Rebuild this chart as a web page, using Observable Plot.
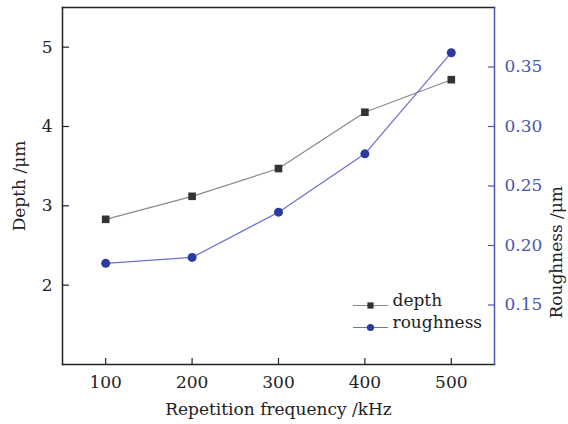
<!DOCTYPE html>
<html>
<head>
<meta charset="utf-8">
<script src="https://cdn.jsdelivr.net/npm/d3@7"></script>
<script src="https://cdn.jsdelivr.net/npm/@observablehq/plot@0.6"></script>
<style>
  html, body { margin: 0; padding: 0; background: #fff; }
  #chart svg { display: block; }
</style>
</head>
<body>
<div id="chart"></div>
<script>
// Data
const frequency = [100, 200, 300, 400, 500];           // kHz
const depth = [2.83, 3.12, 3.47, 4.18, 4.59];           // μm
const roughness = [0.185, 0.190, 0.228, 0.277, 0.362];  // μm
const xTicks = [100, 200, 300, 400, 500];
const depthTicks = [2, 3, 4, 5];
const roughTicks = [0.15, 0.20, 0.25, 0.30, 0.35];
const seriesNames = ["depth", "roughness"];

// Scale domains
const depthDomain = [1, 5.5];
const roughDomain = [0.10, 0.40];
// map roughness onto the depth scale (dual axis)
const r2d = r => depthDomain[0] + (r - roughDomain[0]) / (roughDomain[1] - roughDomain[0]) * (depthDomain[1] - depthDomain[0]);
const d2r = d => roughDomain[0] + (d - depthDomain[0]) / (depthDomain[1] - depthDomain[0]) * (roughDomain[1] - roughDomain[0]);

const depthData = frequency.map((f, i) => ({f, v: depth[i]}));
const roughData = frequency.map((f, i) => ({f, v: r2d(roughness[i])}));

const blue = "#2b3a9e";
const blueLine = "#6a6fd0";
const axisBlue = "#4a56b0";
const gray = "#8a8a8a";
const dark = "#333333";
const font = "DejaVu Serif";
const fs = 17;

const segment = {draw(context, l) { context.moveTo(0, 0); context.lineTo(0, -l); }};

const legendMarks = seriesNames.flatMap((name, i) => [
  Plot.vector([name], {frameAnchor: "bottom-left", dx: 308, dy: -59 + 22 * i, length: 34, rotate: 90,
    anchor: "middle", shape: segment, stroke: i ? blueLine : gray, strokeWidth: 1.2}),
  Plot.dot([name], {frameAnchor: "bottom-left", dx: 308, dy: -59 + 22 * i,
    symbol: i ? "circle" : "square", r: i ? 3.6 : 3.5, fill: i ? blue : dark, stroke: "none"}),
  Plot.text([name], {frameAnchor: "bottom-left", dx: 330, dy: -59 + 22 * i, text: d => d,
    textAnchor: "start", fontSize: fs, fill: "#222"})
]);

const chart = Plot.plot({
  width: 568,
  height: 424,
  marginLeft: 62,
  marginRight: 74,
  marginTop: 7,
  marginBottom: 60,
  style: {fontFamily: font, fontSize: fs + "px", color: "#222", background: "#fff"},
  x: {domain: [50, 550]},
  y: {domain: depthDomain},
  marks: [
    // frame
    Plot.frame({anchor: "left", stroke: "#222", strokeWidth: 1.5}),
    Plot.frame({anchor: "top", stroke: "#222", strokeWidth: 1.5}),
    Plot.frame({anchor: "bottom", stroke: "#222", strokeWidth: 1.5}),
    Plot.frame({anchor: "right", stroke: axisBlue, strokeWidth: 1.5}),
    // axes
    Plot.axisX({ticks: xTicks, tickFormat: d => String(d), tickSize: 6, dy: -6, tickPadding: 11, stroke: "#222", strokeWidth: 1.2,
      label: "Repetition frequency /kHz", labelAnchor: "center", labelOffset: 50, labelArrow: "none", fontSize: fs}),
    Plot.axisY({anchor: "left", ticks: depthTicks, tickFormat: d => String(d), tickSize: 7, dx: 7, tickPadding: 10, stroke: "#222", strokeWidth: 1.2,
      label: "Depth /μm", labelAnchor: "center", labelOffset: 50, labelArrow: "none", fontSize: fs}),
    Plot.axisY({anchor: "right", ticks: roughTicks.map(r2d), tickFormat: d => d2r(d).toFixed(2),
      tickSize: 7, dx: -7, tickPadding: 10, stroke: axisBlue, fill: axisBlue, strokeWidth: 1.2,
      label: null, fontSize: fs}),
    Plot.text(["Roughness /μm"], {frameAnchor: "right", dx: 62, rotate: -90, fontSize: fs, fill: "#222"}),
    // depth series
    Plot.line(depthData, {x: "f", y: "v", stroke: gray, strokeWidth: 1.2}),
    Plot.dot(depthData, {x: "f", y: "v", symbol: "square", r: 4.3, fill: dark, stroke: "none"}),
    // roughness series
    Plot.line(roughData, {x: "f", y: "v", stroke: blueLine, strokeWidth: 1.2}),
    Plot.dot(roughData, {x: "f", y: "v", symbol: "circle", r: 4.5, fill: blue, stroke: "none"}),
    // legend
    ...legendMarks
  ]
});

document.getElementById("chart").append(chart);
</script>
</body>
</html>
